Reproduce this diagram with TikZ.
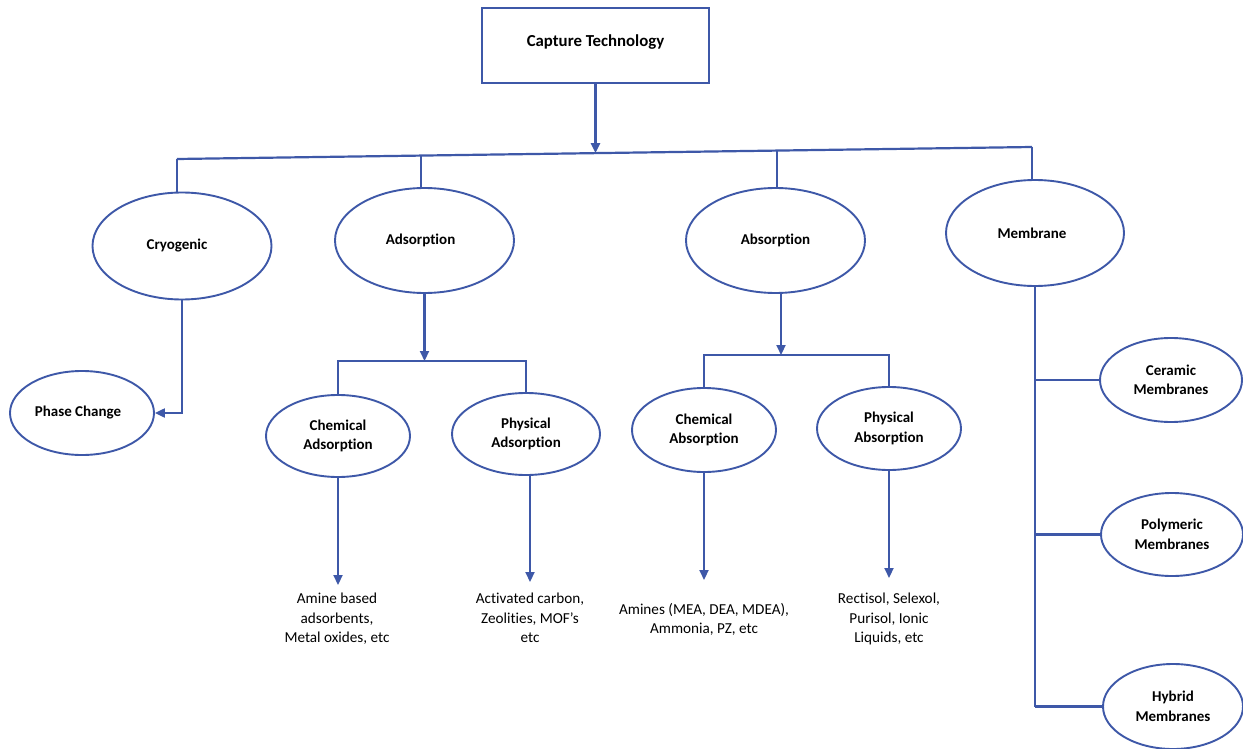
\documentclass[tikz,border=0pt]{standalone}
\usepackage{fontspec}
\setmainfont{Carlito}[Ligatures={TeX,NoCommon}]
\usetikzlibrary{shapes.geometric,arrows.meta,calc}
\definecolor{linec}{RGB}{62,88,168}
\begin{document}
\begin{tikzpicture}[x=1pt,y=-1pt,
  oval/.style={ellipse,draw=linec,line width=1.9pt,inner sep=0pt,align=center,
    font=\fontsize{15}{19.5}\selectfont\bfseries},
  conn/.style={draw=linec,line width=2.2pt},
  arr/.style={conn,-{Triangle[length=10pt,width=9pt]}},
  note/.style={align=center,font=\fontsize{15.2}{19.5}\selectfont,inner sep=0pt,anchor=north}]
\useasboundingbox[fill=white] (0,0) rectangle (1243,749);

% title
\node[draw=linec,line width=2.3pt,minimum width=227pt,minimum height=75pt,inner sep=0pt,
  font=\fontsize{16.8}{19}\selectfont\bfseries] (title) at (595.5,45.5) {\raisebox{3pt}[\height][\depth]{Capture Technology}};

% level 1
\node[oval,minimum width=179pt,minimum height=107pt] (cryo) at (182,246) {\hspace*{-10pt}Cryogenic};
\node[oval,minimum width=179pt,minimum height=105pt] (adsorp) at (424.5,240.5) {\hspace*{-8pt}Adsorption};
\node[oval,minimum width=179pt,minimum height=105pt] (absorp) at (775.5,240.5) {Absorption};
\node[oval,minimum width=178pt,minimum height=106pt] (membrane) at (1035,233) {\hspace*{-6pt}Membrane};

% level 2
\node[oval,minimum width=144pt,minimum height=84pt] (phase) at (82,413) {\hspace*{-8pt}Phase Change};
\node[oval,minimum width=144pt,minimum height=82pt] (chemads) at (338,436) {Chemical\\Adsorption};
\node[oval,minimum width=148pt,minimum height=82pt] (physads) at (526,434) {Physical\\Adsorption};
\node[oval,minimum width=144pt,minimum height=84pt] (chemabs) at (704,430) {Chemical\\Absorption};
\node[oval,minimum width=144pt,minimum height=83pt] (physabs) at (889,428.5) {Physical\\Absorption};
\node[oval,minimum width=142pt,minimum height=84pt] (ceramic) at (1171,380) {Ceramic\\Membranes};
\node[oval,minimum width=142pt,minimum height=83pt] (polymeric) at (1172,534.5) {Polymeric\\Membranes};
\node[oval,minimum width=140pt,minimum height=85pt] (hybrid) at (1173,706.5) {Hybrid\\Membranes};

% notes
\node[note] (t1) at (337,593) {Amine based\\adsorbents,\\Metal oxides, etc};
\node[note] (t2) at (530,593) {Activated carbon,\\Zeolities, MOF's\\etc};
\node[note] (t3) at (704,603) {Amines (MEA, DEA, MDEA),\\Ammonia, PZ, etc};
\node[note] (t4) at (889,593) {Rectisol, Selexol,\\Purisol, Ionic\\Liquids, etc};

% main bus
\coordinate (busL) at (177,159);
\coordinate (busR) at (1032,147);
\coordinate (busA) at ($(busL)!0.2854!(busR)$);
\coordinate (busT) at ($(busL)!0.4889!(busR)$);
\coordinate (busB) at ($(busL)!0.7018!(busR)$);
\draw[conn] (busL) -- (busR);
\draw[arr] (title.south) -- (title.south |- busT);
\draw[conn] (busL) -- (busL |- cryo.north);
\draw[conn] (busA) -- (busA |- adsorp.north);
\draw[conn] (busB) -- (busB |- absorp.north);
\draw[conn] (busR) -- (busR |- membrane.north);

% cryogenic
\draw[arr] (cryo.south) |- (phase.east);

% adsorption
\coordinate (adsbus) at (425,361);
\draw[arr] (adsorp.south) -- (adsorp.south |- adsbus);
\draw[conn] (chemads.north) -- (chemads.north |- adsbus) -- (physads.north |- adsbus) -- (physads.north);

% absorption
\coordinate (absbus) at (781,355);
\draw[arr] (absorp.south -| absbus) -- (absbus);
\draw[conn] (chemabs.north) -- (chemabs.north |- absbus) -- (physabs.north |- absbus) -- (physabs.north);

% membrane
\draw[conn] (membrane.south) -- (membrane.south |- hybrid.west);
\draw[conn] (membrane.south |- ceramic.west) -- (ceramic.west);
\draw[conn] (membrane.south |- polymeric.west) -- (polymeric.west);
\draw[conn] (membrane.south |- hybrid.west) -- (hybrid.west);

% leaf arrows
\draw[arr,shorten >=8pt] (chemads.south) -- (chemads.south |- t1.north);
\draw[arr,shorten >=11pt] (physads.south -| t2.north) -- (t2.north);
\draw[arr,shorten >=23pt] (chemabs.south) -- (chemabs.south |- t3.north);
\draw[arr,shorten >=15pt] (physabs.south) -- (physabs.south |- t4.north);
\end{tikzpicture}
\end{document}
